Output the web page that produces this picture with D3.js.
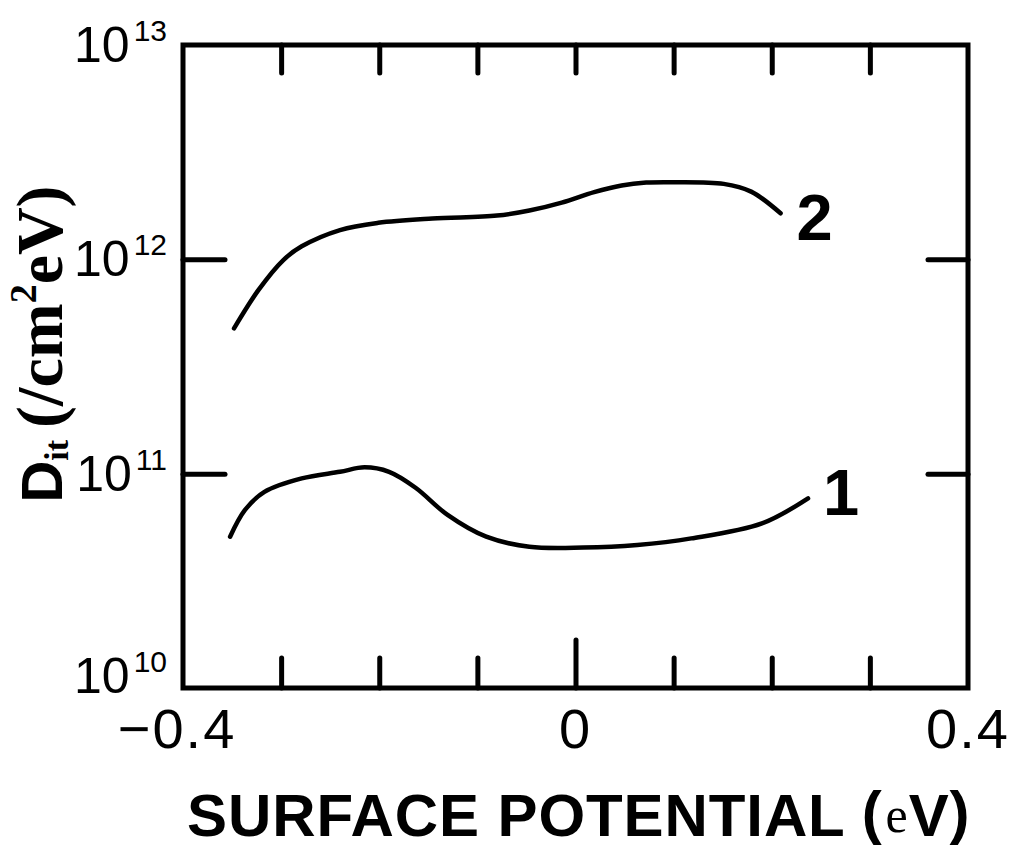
<!DOCTYPE html>
<html>
<head>
<meta charset="utf-8">
<script src="https://cdn.jsdelivr.net/npm/d3@7/dist/d3.min.js"></script>
<style>
  html, body { margin: 0; padding: 0; background: #fff; }
  svg { display: block; }
</style>
</head>
<body>
<svg id="chart" width="1018" height="849"></svg>
<script>
// Interface-state density versus surface potential, two samples (log scale).
const potential2 = [-0.348, -0.323, -0.298, -0.279, -0.240, -0.201, -0.146, -0.080,
                    -0.047, -0.014, 0.019, 0.047, 0.072, 0.096, 0.151, 0.179, 0.209];
const dit2 = [4.76e11, 7.2e11, 9.9e11, 1.15e12, 1.37e12, 1.48e12, 1.55e12, 1.60e12,
              1.69e12, 1.84e12, 2.06e12, 2.21e12, 2.28e12, 2.29e12, 2.25e12, 2.07e12, 1.64e12];

const potential1 = [-0.352, -0.337, -0.317, -0.279, -0.240, -0.215, -0.190, -0.163,
                    -0.130, -0.091, -0.047, 0.008, 0.063, 0.118, 0.190, 0.237];
const dit1 = [5.08e10, 6.76e10, 8.22e10, 9.5e10, 1.02e11, 1.07e11, 1.02e11, 8.6e10,
              6.4e10, 5.08e10, 4.56e10, 4.52e10, 4.65e10, 4.99e10, 5.86e10, 7.67e10];

const seriesNames = ["1", "2"];

const xTickLabels = [-0.4, 0, 0.4];
const xMinorTicks = [-0.3, -0.2, -0.1, 0.1, 0.2, 0.3];
const xTopTicks = [-0.3, -0.2, -0.1, 0, 0.1, 0.2, 0.3];
const yTickExponents = [10, 11, 12, 13];
const yInnerTicks = [1e11, 1e12];

const svg = d3.select("#chart");

const plotLeft = 183, plotRight = 968, plotTop = 45, plotBottom = 688;

const x = d3.scaleLinear().domain([-0.4, 0.4]).range([plotLeft, plotRight]);
const y = d3.scaleLog().domain([1e10, 1e13]).range([plotBottom, plotTop]);

const SANS = "'Liberation Sans', Arial, Helvetica, sans-serif";
const SERIF = "'Liberation Serif', 'Times New Roman', serif";

// ticks on the four sides, drawn with d3 axes
function styleTicks(g) {
  g.select(".domain").remove();
  g.selectAll(".tick line")
    .attr("stroke", "#000")
    .attr("stroke-width", 5)
    .attr("stroke-linecap", "round");
  g.selectAll(".tick text").remove();
}

svg.append("g")
  .attr("transform", `translate(0,${plotBottom})`)
  .call(d3.axisBottom(x).tickValues(xMinorTicks).tickSize(-30).tickFormat(""))
  .call(styleTicks);

svg.append("g")
  .attr("transform", `translate(0,${plotBottom})`)
  .call(d3.axisBottom(x).tickValues([0]).tickSize(-48).tickFormat(""))
  .call(styleTicks);

svg.append("g")
  .attr("transform", `translate(0,${plotTop})`)
  .call(d3.axisTop(x).tickValues(xTopTicks).tickSize(-28).tickFormat(""))
  .call(styleTicks);

svg.append("g")
  .attr("transform", `translate(${plotLeft},0)`)
  .call(d3.axisLeft(y).tickValues(yInnerTicks).tickSize(-42).tickFormat(""))
  .call(styleTicks);

svg.append("g")
  .attr("transform", `translate(${plotRight},0)`)
  .call(d3.axisRight(y).tickValues(yInnerTicks).tickSize(-40).tickFormat(""))
  .call(styleTicks);

// frame
svg.append("rect")
  .attr("x", plotLeft).attr("y", plotTop)
  .attr("width", plotRight - plotLeft).attr("height", plotBottom - plotTop)
  .attr("fill", "none")
  .attr("stroke", "#000")
  .attr("stroke-width", 5);

// x tick labels
svg.append("g").selectAll("text")
  .data(xTickLabels)
  .join("text")
  .attr("x", d => x(d) + (d < 0 ? -6 : 0))
  .attr("y", 748)
  .attr("text-anchor", "middle")
  .attr("font-family", SANS)
  .attr("font-size", 56)
  .attr("letter-spacing", 2)
  .attr("fill", "#000")
  .text(d => d === 0 ? "0" : (d < 0 ? "\u2212" : "") + Math.abs(d).toFixed(1));

// y tick labels: 10 with superscript exponent
const yLab = svg.append("g").selectAll("text")
  .data(yTickExponents)
  .join("text")
  .attr("x", 167)
  .attr("y", e => Math.min(y(Math.pow(10, e)) + 17, plotBottom + 5))
  .attr("text-anchor", "end")
  .attr("font-family", SANS)
  .attr("font-size", 50)
  .attr("fill", "#000");
yLab.append("tspan").text("10");
yLab.append("tspan")
  .attr("dx", 4)
  .attr("dy", -21)
  .attr("font-size", 30)
  .text(e => e);

// curves
const line = d3.line()
  .x(d => x(d[0]))
  .y(d => y(d[1]))
  .curve(d3.curveCatmullRom.alpha(0.5));

const series = [
  { name: seriesNames[0], pts: d3.zip(potential1, dit1) },
  { name: seriesNames[1], pts: d3.zip(potential2, dit2) }
];

svg.append("g").selectAll("path")
  .data(series)
  .join("path")
  .attr("d", d => line(d.pts))
  .attr("fill", "none")
  .attr("stroke", "#000")
  .attr("stroke-width", 4.5)
  .attr("stroke-linecap", "round")
  .attr("stroke-linejoin", "round");

// curve numbers next to the curve ends
const labelOffset = { "1": [33, 17], "2": [34, 27] };
svg.append("g").selectAll("text")
  .data(series)
  .join("text")
  .attr("x", d => x(d.pts[d.pts.length - 1][0]) + labelOffset[d.name][0])
  .attr("y", d => y(d.pts[d.pts.length - 1][1]) + labelOffset[d.name][1])
  .attr("text-anchor", "middle")
  .attr("font-family", SANS)
  .attr("font-weight", "bold")
  .attr("font-size", 65)
  .attr("fill", "#000")
  .text(d => d.name);

// x axis title
const xt = svg.append("text")
  .attr("x", 187)
  .attr("y", 836)
  .attr("font-family", SANS)
  .attr("font-weight", "bold")
  .attr("font-size", 60)
  .attr("letter-spacing", 0.9)
  .attr("fill", "#000");
xt.append("tspan").text("SURFACE POTENTIAL");
xt.append("tspan").attr("dx", 16).attr("dy", -3).text("(");
xt.append("tspan").attr("dx", 3).attr("dy", -1)
  .attr("font-family", SERIF).attr("font-weight", "normal").attr("font-size", 50).text("e");
xt.append("tspan").attr("dy", 4).text("V");
xt.append("tspan").attr("dy", -3).text(")");

// y axis title
const yt = svg.append("text")
  .attr("transform", "translate(62,344) rotate(-90)")
  .attr("text-anchor", "middle")
  .attr("fill", "#000")
  .attr("font-weight", "bold");
yt.append("tspan").attr("font-family", SANS).attr("font-size", 58).text("D");
yt.append("tspan").attr("font-family", SERIF).attr("font-size", 34).attr("dy", 6).text("it");
yt.append("tspan").attr("font-family", SERIF).attr("font-size", 66).attr("dx", 12).attr("dy", -6).text("(/cm");
yt.append("tspan").attr("font-family", SERIF).attr("font-size", 38).attr("dy", -26).text("2");
yt.append("tspan").attr("font-family", SERIF).attr("font-size", 66).attr("dy", 26).text("eV)");
</script>
</body>
</html>
